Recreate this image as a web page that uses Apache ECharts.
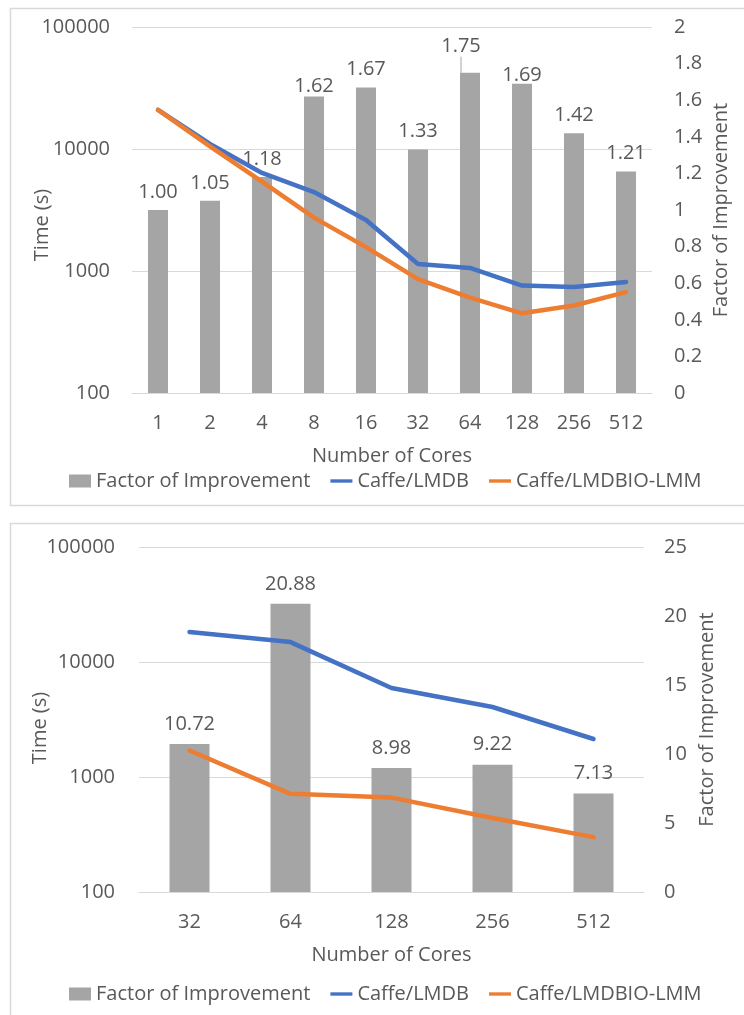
<!DOCTYPE html>
<html>
<head>
<meta charset="utf-8">
<script src="https://cdn.jsdelivr.net/npm/echarts@6/dist/echarts.min.js"></script>
<style>
  html, body { margin: 0; padding: 0; background: #fff; }
  #chart { width: 744px; height: 1015px; }
</style>
</head>
<body>
<div id="chart"></div>
<script>
// ---- Data (top chart) ----
const cores1 = ['1', '2', '4', '8', '16', '32', '64', '128', '256', '512'];
const factor1 = [1.00, 1.05, 1.18, 1.62, 1.67, 1.33, 1.75, 1.69, 1.42, 1.21];
const lmdb1 = [20900, 11000, 6360, 4440, 2620, 1140, 1060, 760, 740, 813];
const lmm1 = [20900, 10500, 5400, 2740, 1570, 857, 606, 450, 521, 672];

// ---- Data (bottom chart) ----
const cores2 = ['32', '64', '128', '256', '512'];
const factor2 = [10.72, 20.88, 8.98, 9.22, 7.13];
const lmdb2 = [18200, 14900, 5940, 4060, 2140];
const lmm2 = [1700, 714, 662, 440, 300];

const seriesNames = ['Factor of Improvement', 'Caffe/LMDB', 'Caffe/LMDBIO-LMM'];
const axisNames = { time: 'Time (s)', factor: 'Factor of Improvement', cores: 'Number of Cores' };

const TEXT = '#595959';
const GRID = '#D9D9D9';
const BAR = '#A5A5A5';
const BLUE = '#4472C4';
const ORANGE = '#ED7D31';
const FONT = 'Open Sans';

const chart = echarts.init(document.getElementById('chart'), null, { renderer: 'canvas' });

function xAxisCfg(gridIndex, data) {
  return {
    type: 'category', gridIndex, data,
    axisTick: { show: false },
    axisLine: { show: true, lineStyle: { color: GRID, width: 1 } },
    axisLabel: { color: TEXT, fontSize: 20, fontFamily: FONT, margin: 20 },
    name: axisNames.cores, nameLocation: 'middle', nameGap: 53, nameMoveOverlap: false,
    nameTextStyle: { color: TEXT, fontSize: 20, fontFamily: FONT }
  };
}
function logAxisCfg(gridIndex, gap, margin, pad) {
  return {
    type: 'log', logBase: 10, gridIndex, min: 100, max: 100000, position: 'left',
    axisLine: { show: false }, axisTick: { show: false },
    splitLine: { show: true, lineStyle: { color: GRID, width: 1 } },
    axisLabel: { color: TEXT, fontSize: 20, fontFamily: FONT, margin, formatter: v => String(Math.round(v)) },
    name: axisNames.time, nameLocation: 'middle', nameGap: gap, nameRotate: 90, nameMoveOverlap: false,
    nameTextStyle: { color: TEXT, fontSize: 20, fontFamily: FONT, padding: [0, pad, 0, 0] }
  };
}
function factorAxisCfg(gridIndex, max, interval, gap, margin) {
  return {
    type: 'value', gridIndex, min: 0, max, interval, position: 'right',
    axisLine: { show: false }, axisTick: { show: false }, splitLine: { show: false },
    axisLabel: { color: TEXT, fontSize: 20, fontFamily: FONT, margin },
    name: axisNames.factor, nameLocation: 'middle', nameGap: gap, nameRotate: 90, nameMoveOverlap: false,
    nameTextStyle: { color: TEXT, fontSize: 20, fontFamily: FONT }
  };
}
function lineSeries(name, data, color, xi, yi) {
  return {
    name, type: 'line', data, xAxisIndex: xi, yAxisIndex: yi,
    symbol: 'none', smooth: false, z: 3,
    lineStyle: { color, width: 4.5, cap: 'round', join: 'round' },
    itemStyle: { color }
  };
}
const labelStyle = { show: true, position: 'top', color: TEXT, fontSize: 20, fontFamily: FONT, lineHeight: 20,
  formatter: p => Number(p.value).toFixed(2) };

// per-label adjustments in top chart (moved labels, one with a leader line)
const topAdjust = { 3: { dx: 0, dy: 8 }, 6: { dx: -9, dy: -8 }, 7: { dx: 0, dy: 10 } };
const topBarData = factor1.map((v, i) => i === 6
  ? { value: v, labelLine: { show: true, lineStyle: { color: '#A6A6A6', width: 1 } } }
  : v);

const LINE_ICON = 'path://M0,0H26V4H0Z';
const legendCfg = (top) => ({
  top, left: 69, padding: 0, itemGap: 20, itemWidth: 22, itemHeight: 13, symbolKeepAspect: true,
  data: [
    { name: seriesNames[0], icon: 'rect' },
    { name: seriesNames[1], icon: LINE_ICON },
    { name: seriesNames[2], icon: LINE_ICON }
  ],
  textStyle: { color: TEXT, fontSize: 20, fontFamily: FONT },
  selectedMode: false
});

const option = {
  backgroundColor: '#fff',
  animation: false,
  textStyle: { fontFamily: FONT, color: TEXT },
  graphic: [
    { type: 'rect', shape: { x: 10.5, y: 8.5, width: 740, height: 497 }, style: { fill: 'none', stroke: GRID, lineWidth: 1.5 }, silent: true, z: -10 },
    { type: 'rect', shape: { x: 10.5, y: 523.5, width: 740, height: 520 }, style: { fill: 'none', stroke: GRID, lineWidth: 1.5 }, silent: true, z: -10 }
  ],
  grid: [
    { left: 132, right: 92, top: 27, height: 366 },
    { left: 139, right: 100, top: 547, height: 345 }
  ],
  legend: [legendCfg(471), legendCfg(984)],
  xAxis: [xAxisCfg(0, cores1), xAxisCfg(1, cores2)],
  yAxis: [
    logAxisCfg(0, 80, 22, 30),
    factorAxisCfg(0, 2, 0.2, 59, 22),
    logAxisCfg(1, 89, 24, 17),
    factorAxisCfg(1, 25, 5, 53, 20)
  ],
  series: [
    {
      name: seriesNames[0], type: 'bar', data: topBarData, xAxisIndex: 0, yAxisIndex: 1,
      barWidth: 20, itemStyle: { color: BAR }, z: 2,
      label: Object.assign({}, labelStyle, { distance: 8 }),
      labelLayout: (p) => topAdjust[p.dataIndex] || {}
    },
    lineSeries(seriesNames[1], lmdb1, BLUE, 0, 0),
    lineSeries(seriesNames[2], lmm1, ORANGE, 0, 0),
    {
      name: seriesNames[0], type: 'bar', data: factor2, xAxisIndex: 1, yAxisIndex: 3,
      barWidth: 40, itemStyle: { color: BAR }, z: 2,
      label: Object.assign({}, labelStyle, { distance: 10 })
    },
    lineSeries(seriesNames[1], lmdb2, BLUE, 1, 2),
    lineSeries(seriesNames[2], lmm2, ORANGE, 1, 2)
  ]
};
chart.setOption(option);
</script>
</body>
</html>
